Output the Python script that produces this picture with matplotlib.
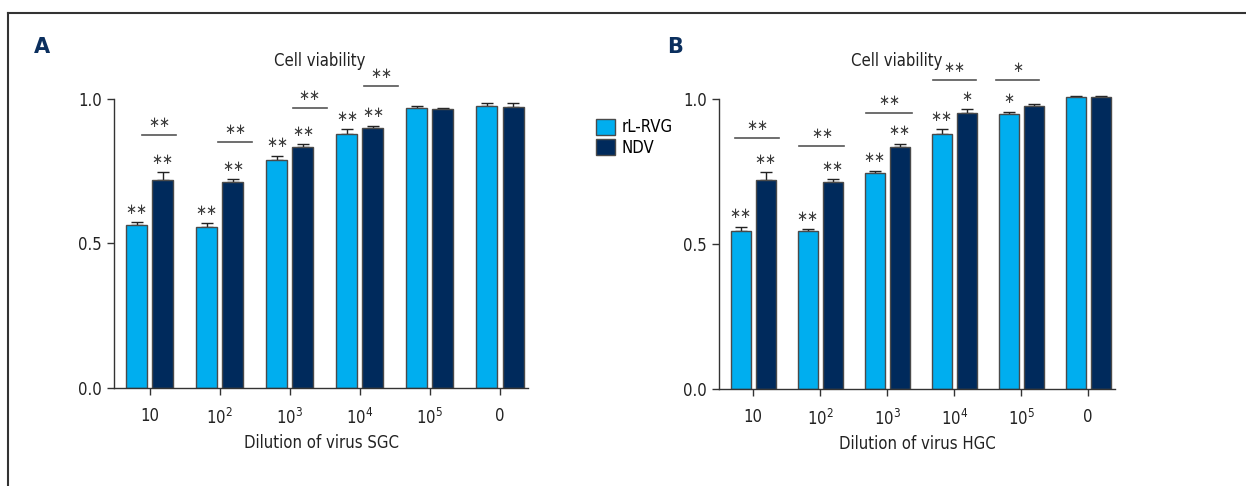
import numpy as np
import matplotlib
matplotlib.use('Agg')
import matplotlib.pyplot as plt
from matplotlib.patches import Patch

plt.rcParams['font.family'] = ['DejaVu Sans']
plt.rcParams['font.stretch'] = 'condensed'
plt.rcParams['mathtext.fontset'] = 'custom'
plt.rcParams['mathtext.rm'] = 'DejaVu Sans:stretch=condensed'

# data
dilutions = ['10', r'10$^{\mathrm{2}}$', r'10$^{\mathrm{3}}$', r'10$^{\mathrm{4}}$', r'10$^{\mathrm{5}}$', '0']
series = ['rL-RVG', 'NDV']

sgc_rlrvg = [0.564, 0.557, 0.789, 0.879, 0.968, 0.977]
sgc_rlrvg_err = [0.010, 0.013, 0.014, 0.017, 0.007, 0.008]
sgc_ndv = [0.720, 0.713, 0.834, 0.900, 0.964, 0.973]
sgc_ndv_err = [0.027, 0.009, 0.010, 0.008, 0.005, 0.012]
sgc_rlrvg_sig = ['**', '**', '**', '**', '', '']
sgc_ndv_sig = ['**', '**', '**', '**', '', '']
# pairwise brackets: (start, end, height, label)
sgc_pairs = [(-0.11, 0.37, 0.875, '**'), (0.97, 1.46, 0.851, '**'),
             (2.04, 2.53, 0.969, '**'), (3.06, 3.55, 1.045, '**')]

hgc_rlrvg = [0.546, 0.544, 0.744, 0.879, 0.948, 1.006]
hgc_rlrvg_err = [0.014, 0.007, 0.009, 0.016, 0.008, 0.006]
hgc_ndv = [0.720, 0.714, 0.836, 0.951, 0.977, 1.006]
hgc_ndv_err = [0.028, 0.009, 0.009, 0.014, 0.005, 0.006]
hgc_rlrvg_sig = ['**', '**', '**', '**', '*', '']
hgc_ndv_sig = ['**', '**', '**', '*', '', '']
hgc_pairs = [(-0.27, 0.39, 0.866, '**'), (0.69, 1.36, 0.838, '**'),
             (1.69, 2.37, 0.952, '**'), (2.68, 3.32, 1.066, '**'),
             (3.62, 4.27, 1.066, '*')]

light = '#00aeef'
dark = '#002a5c'
edge = '#4a4a4a'
txt = '#3a3a3a'


def stars(s):
	# centred asterisk like the reference glyph
	return s.replace('*', '\u2217')


fig = plt.figure(figsize=(12.46, 4.86), dpi=100)

# outer frame (top and left only, as in the reference)
fig.add_artist(plt.Line2D([8/1246, 1], [1-13.5/486, 1-13.5/486], color='#333333', lw=1.5))
fig.add_artist(plt.Line2D([8/1246, 8/1246], [1-13.5/486, 0], color='#333333', lw=1.5))


def panel(rect, a, a_err, b, b_err, a_sig, b_sig, pairs, xlabel, letter, letter_x, title_x):
	ax = fig.add_axes(rect)
	x = np.arange(len(dilutions))
	off = 0.186
	w = 0.30
	ax.bar(x - off, a, w, color=light, edgecolor=edge, linewidth=1, zorder=2)
	ax.bar(x + off, b, w, color=dark, edgecolor=edge, linewidth=1, zorder=2)
	ax.errorbar(x - off, a, yerr=[np.zeros(len(a)), a_err], fmt='none', ecolor='#222222',
				elinewidth=1, capsize=4, capthick=1, zorder=1)
	ax.errorbar(x + off, b, yerr=[np.zeros(len(b)), b_err], fmt='none', ecolor='#222222',
				elinewidth=1, capsize=4, capthick=1, zorder=1)

	for i in range(len(x)):
		if a_sig[i]:
			ax.text(x[i] - off, a[i] + a_err[i] + 0.045, stars(a_sig[i]), ha='center', va='center',
					fontsize=10.5, color=txt)
		if b_sig[i]:
			ax.text(x[i] + off, b[i] + b_err[i] + 0.045, stars(b_sig[i]), ha='center', va='center',
					fontsize=10.5, color=txt)
	for x0, x1, h, lab in pairs:
		ax.plot([x0, x1], [h, h], color='#555555', lw=1.2, clip_on=False)
		ax.text((x0 + x1) / 2, h + 0.042, stars(lab), ha='center', va='center', fontsize=10.5,
				color=txt, clip_on=False)

	ax.set_xlim(-0.51, 5.4)
	ax.set_ylim(0, 1.05)
	ax.set_yticks([0, 0.5, 1.0])
	ax.set_yticklabels(['0.0', '0.5', '1.0'])
	ax.set_xticks(x)
	ax.set_xticklabels(dilutions)
	ax.spines['top'].set_visible(False)
	ax.spines['right'].set_visible(False)
	ax.spines['left'].set_bounds(0, 1.0)
	for s in ['left', 'bottom']:
		ax.spines[s].set_color('#333333')
		ax.spines[s].set_linewidth(1)
	ax.tick_params(axis='both', colors='#333333', labelcolor='#222222', labelsize=12,
				   length=5, width=1)
	ax.tick_params(axis='x', pad=9)
	ax.set_xlabel(xlabel, fontsize=12, color='#222222', labelpad=5)

	fig.text(title_x, 1 - 61/486, 'Cell viability', ha='center', va='center', fontsize=12,
			 color='#222222')
	fig.text(letter_x, 1 - 47/486, letter, ha='center', va='center', fontsize=15,
			 fontweight='bold', color='#0b2f5e', fontstretch='normal')
	return ax


panel([114/1246, 1 - 388/486, 414/1246, 303.5/486], sgc_rlrvg, sgc_rlrvg_err, sgc_ndv, sgc_ndv_err,
	  sgc_rlrvg_sig, sgc_ndv_sig, sgc_pairs, 'Dilution of virus SGC', 'A', 42/1246, 320/1246)
panel([719/1246, 1 - 389/486, 396/1246, 304.5/486], hgc_rlrvg, hgc_rlrvg_err, hgc_ndv, hgc_ndv_err,
	  hgc_rlrvg_sig, hgc_ndv_sig, hgc_pairs, 'Dilution of virus HGC', 'B', 675/1246, 897/1246)

handles = [Patch(facecolor=light, edgecolor=edge, label=series[0]),
		   Patch(facecolor=dark, edgecolor=edge, label=series[1])]
fig.legend(handles=handles, loc='upper left', bbox_to_anchor=(588/1246, 1 - 110/486),
		   frameon=False, fontsize=12, handlelength=1.1, handleheight=1.1,
		   handletextpad=0.4, labelspacing=0.15, borderpad=0)

fig.savefig('out.png', dpi=100)
